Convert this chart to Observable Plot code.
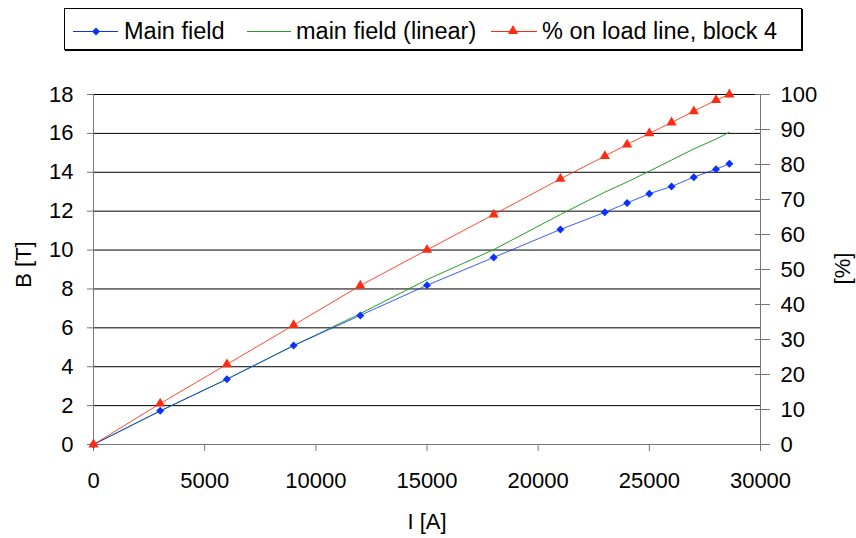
<!DOCTYPE html>
<html><head><meta charset="utf-8">
<script src="https://cdn.jsdelivr.net/npm/d3@7"></script>
<script src="https://cdn.jsdelivr.net/npm/@observablehq/plot@0.6"></script>
<style>
body{margin:0;background:#fff;font-family:"Liberation Sans",Arial,sans-serif;}
#wrap{position:relative;width:856px;height:538px;overflow:hidden;}
#legend{position:absolute;left:64px;top:8px;width:736px;height:40px;border:1px solid #000;box-shadow:1px 1px 0 #000;background:#fff;}
#legend svg{position:absolute;left:0;top:0;}
</style></head>
<body><div id="wrap"><div id="chart"></div><div id="legend"></div></div>
<script>
// Data
const current   = [0, 3000, 6000, 9000, 12000, 15000, 18000, 21000, 23000, 24000, 25000, 26000, 27000, 28000, 28600];
const mainField = [0, 1.73, 3.36, 5.09, 6.64, 8.19, 9.62, 11.06, 11.94, 12.42, 12.9, 13.27, 13.75, 14.16, 14.44];
const linearField = [0, 1.72, 3.36, 5.08, 6.73, 8.48, 10.02, 11.83, 12.98, 13.5, 14.06, 14.63, 15.2, 15.71, 16.06];
const percentLoad = [0, 11.7, 22.9, 34.1, 45.4, 55.6, 65.7, 75.9, 82.4, 85.7, 88.9, 92.0, 95.2, 98.4, 100];
const xTicks = [0, 5000, 10000, 15000, 20000, 25000, 30000];
const yTicks = [0, 2, 4, 6, 8, 10, 12, 14, 16, 18];
const pctTicks = [0, 10, 20, 30, 40, 50, 60, 70, 80, 90, 100];
const seriesNames = ["Main field", "main field (linear)", "% on load line, block 4"];
const axisTitles = {x: "I [A]", y: "B [T]", y2: "[%]"};

const BLUE = "#0a32ff", GREEN = "#22a022", RED = "#ff2a10", AXIS = "#777";
const FONT = "'Liberation Sans', Arial, sans-serif";
const k = 18 / 100; // right axis (%) mapped onto left axis (T)

const data = current.map((I, i) => ({I, B: mainField[i], L: linearField[i], P: percentLoad[i] * k}));

const plot = Plot.plot({
  width: 856, height: 538,
  marginLeft: 93, marginRight: 96, marginTop: 94, marginBottom: 94,
  x: {domain: [0, 30000]},
  y: {domain: [0, 18]},
  style: {fontFamily: FONT, fontSize: "22px", color: "#000", background: "transparent"},
  marks: [
    Plot.ruleY(yTicks.filter(d => d > 0), {stroke: "#000", strokeWidth: 1}),
    Plot.ruleX([0], {stroke: AXIS}),
    Plot.ruleX([30000], {stroke: AXIS}),
    Plot.ruleY([0], {stroke: AXIS}),
    Plot.axisY({ticks: yTicks, tickSize: 6, tickPadding: 14, stroke: AXIS, label: null, fontSize: 22, tickFormat: d => String(d)}),
    Plot.axisY({anchor: "right", ticks: pctTicks.map(v => v * k), tickFormat: v => String(Math.round(v / k)),
      tickSize: 15, dx: -6, tickPadding: 11, stroke: AXIS, label: null, fontSize: 22}),
    Plot.axisX({ticks: xTicks, tickSize: 7, tickPadding: 21, stroke: AXIS, label: null, fontSize: 22, tickFormat: d => String(d)}),
    Plot.line(data, {x: "I", y: "L", stroke: GREEN, strokeWidth: 1}),
    Plot.line(data, {x: "I", y: "B", stroke: BLUE, strokeWidth: 1, strokeOpacity: 0.8}),
    Plot.dot(data, {x: "I", y: "B", symbol: "diamond2", fill: BLUE, r: 3.6}),
    Plot.line(data, {x: "I", y: "P", stroke: RED, strokeWidth: 1, strokeOpacity: 0.85}),
    Plot.dot(data, {x: "I", y: "P", symbol: "triangle", fill: RED, r: 3.8}),
    Plot.text([axisTitles.x], {frameAnchor: "bottom", dy: 77, textAnchor: "middle", lineAnchor: "middle", fontSize: 22}),
    Plot.text([axisTitles.y], {frameAnchor: "left", dx: -70, dy: -5, textAnchor: "middle", lineAnchor: "middle", rotate: -90, fontSize: 22}),
    Plot.text([axisTitles.y2], {frameAnchor: "right", dx: 82, dy: -1, textAnchor: "middle", lineAnchor: "middle", rotate: -90, fontSize: 22})
  ]
});
document.getElementById("chart").appendChild(plot);

// Legend (positions relative to the legend box interior)
const legendItems = [
  {name: seriesNames[0], color: BLUE, x1: 8, x2: 53, mx: 31, sym: "diamond", tx: 59},
  {name: seriesNames[1], color: GREEN, x1: 182, x2: 226, mx: null, sym: null, tx: 231},
  {name: seriesNames[2], color: RED, x1: 426, x2: 472, mx: 448, sym: "triangle", tx: 477}
];
const lsvg = d3.select("#legend").append("svg").attr("width", 736).attr("height", 40);
legendItems.forEach(it => {
  lsvg.append("line").attr("x1", it.x1).attr("x2", it.x2).attr("y1", 22.5).attr("y2", 22.5)
    .attr("stroke", it.color).attr("stroke-width", 1);
  if (it.sym === "diamond") {
    lsvg.append("path").attr("d", d3.symbol(d3.symbolDiamond2, 3.6 * 3.6 * Math.PI)())
      .attr("transform", `translate(${it.mx},22.5)`).attr("fill", it.color);
  } else if (it.sym === "triangle") {
    lsvg.append("path").attr("d", d3.symbol(d3.symbolTriangle, 3.8 * 3.8 * Math.PI)())
      .attr("transform", `translate(${it.mx},22)`).attr("fill", it.color);
  }
  lsvg.append("text").attr("x", it.tx).attr("y", 30).attr("font-family", FONT)
    .attr("font-size", 23.5).attr("fill", "#000").text(it.name);
});
</script>
</body></html>
